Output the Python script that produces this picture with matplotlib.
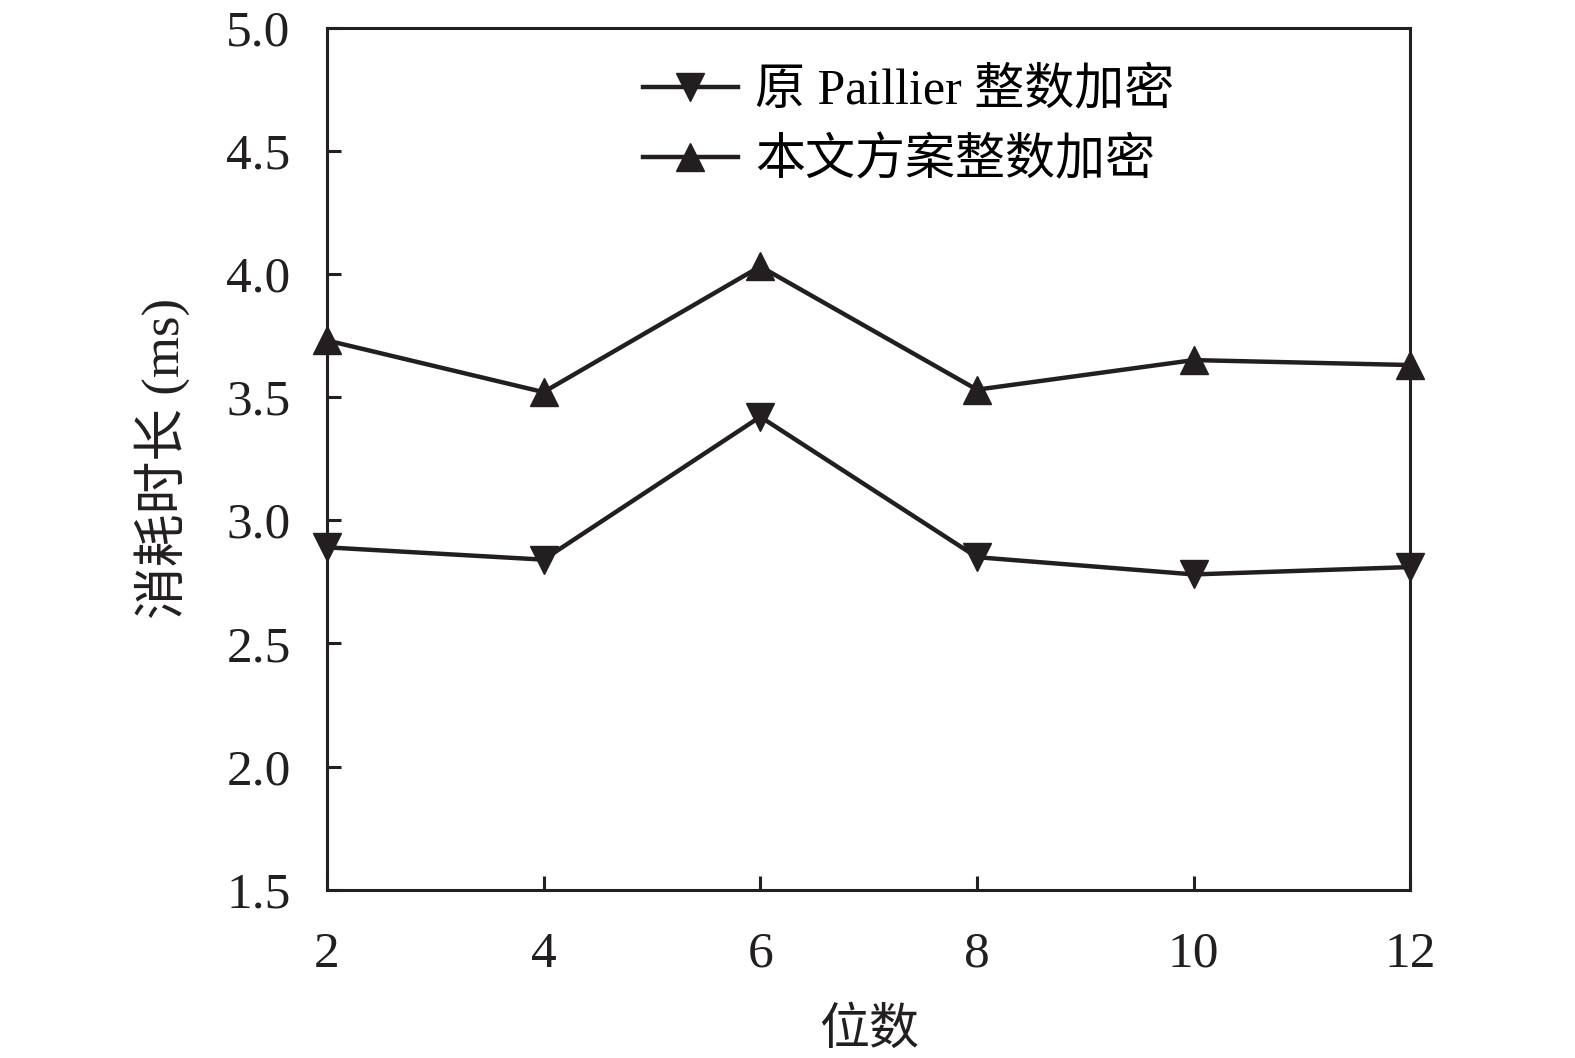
import matplotlib
matplotlib.use("Agg")
import matplotlib.pyplot as plt

# data
bits = [2, 4, 6, 8, 10, 12]
paillier_ms = [2.89, 2.84, 3.42, 2.85, 2.78, 2.81]
ours_ms = [3.73, 3.52, 4.03, 3.53, 3.65, 3.63]
yticks = [1.5, 2.0, 2.5, 3.0, 3.5, 4.0, 4.5, 5.0]

fonts = ['Liberation Serif', 'Noto Sans CJK SC']
plt.rcParams['font.family'] = fonts
ink = '#231f20'

fig = plt.figure(figsize=(15.75, 10.58), dpi=100)
ax = fig.add_axes([0.2075, 0.159, 0.688, 0.815])

ax.plot(bits, paillier_ms, color=ink, lw=3.2, marker='v', ms=20,
        label='原 Paillier 整数加密', clip_on=False)
ax.plot(bits, ours_ms, color=ink, lw=3.2, marker='^', ms=20,
        label='本文方案整数加密', clip_on=False)

ax.set_xlim(2, 12)
ax.set_ylim(1.5, 5.0)
ax.set_xticks(bits)
ax.set_yticks(yticks)
ax.set_yticklabels([f"{v:.1f}" for v in yticks])

for s in ax.spines.values():
    s.set_linewidth(2.2)
    s.set_color(ink)
ax.tick_params(direction='in', length=10, width=2.2, labelsize=37, color=ink, labelcolor=ink)
ax.tick_params(axis='x', pad=30)
ax.tick_params(axis='y', pad=26)

ax.set_xlabel('位数', fontsize=36, labelpad=22, color=ink)
ax.set_ylabel('消耗时长 (ms)', fontsize=38, labelpad=26, color=ink)

leg = ax.legend(loc='upper left', bbox_to_anchor=(0.25, 1.005), frameon=False,
                fontsize=36, handlelength=1.9, handletextpad=0.35, labelspacing=0.45)

fig.savefig('out.png', dpi=100)
